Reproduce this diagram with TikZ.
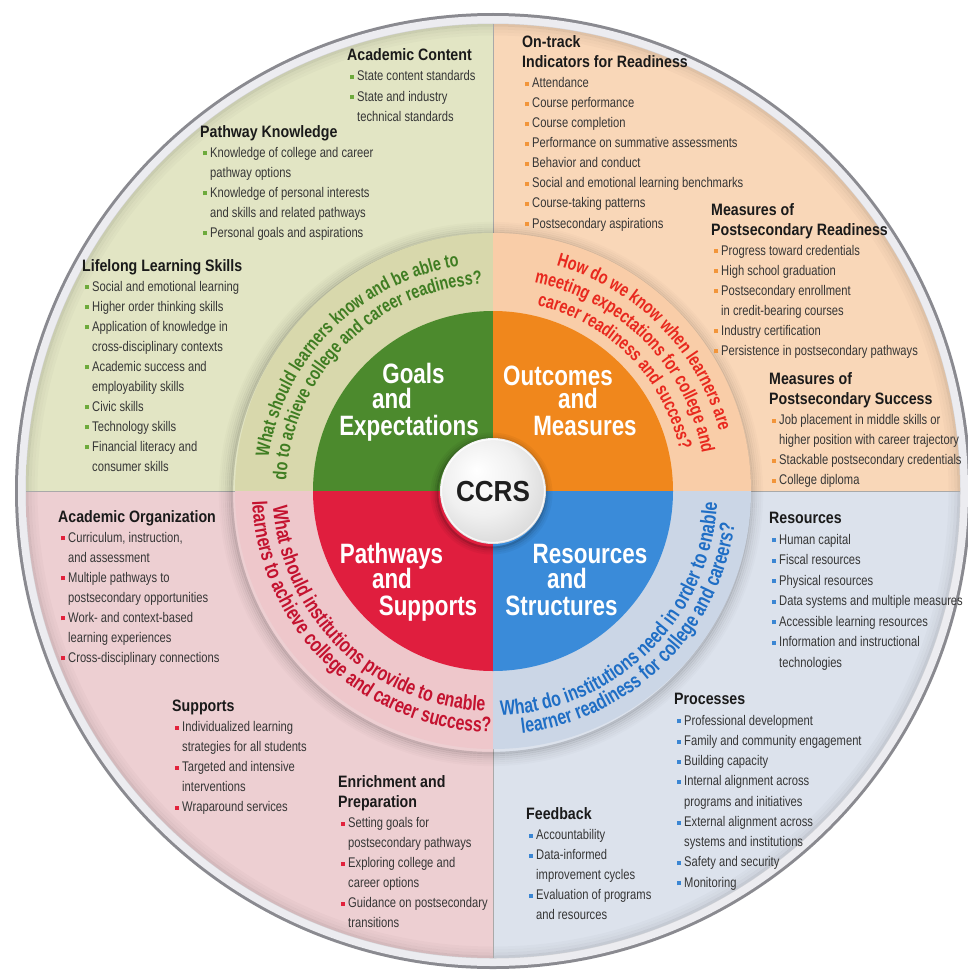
\documentclass[tikz,border=0pt]{standalone}
\usepackage{fontspec}
\setmainfont{Liberation Sans}[FakeStretch=0.8]
\newfontfamily\hfont{Liberation Sans}[FakeStretch=0.86]
\newfontfamily\qfont{Liberation Sans}[FakeStretch=0.76]
\newfontfamily\ccfont{Liberation Sans}[FakeStretch=0.9]
\usetikzlibrary{decorations.text}

\definecolor{rimdark}{HTML}{8A8A90}
\definecolor{rimlight}{HTML}{ECECF0}
\definecolor{tlA}{HTML}{E2E5C4}\definecolor{tlB}{HTML}{CBD89C}\definecolor{tlC}{HTML}{D5DDB4}
\definecolor{trA}{HTML}{F9D7B8}\definecolor{trB}{HTML}{F5B67C}\definecolor{trC}{HTML}{F3AE72}
\definecolor{blA}{HTML}{EDCFD2}\definecolor{blB}{HTML}{F29A96}\definecolor{blC}{HTML}{EE7370}
\definecolor{brA}{HTML}{DCE2EC}\definecolor{brB}{HTML}{B9CFEB}\definecolor{brC}{HTML}{A2C2E9}
\definecolor{rtl}{HTML}{D8D8AC}\definecolor{rtr}{HTML}{F9CDA8}
\definecolor{rbl}{HTML}{EEC7CB}\definecolor{rbr}{HTML}{CBD6E6}
\definecolor{ig}{HTML}{4C8A2D}\definecolor{io}{HTML}{F0871C}
\definecolor{ir}{HTML}{E01E3E}\definecolor{ib}{HTML}{3A8BD9}
\definecolor{qg}{HTML}{3F7D22}\definecolor{qo}{HTML}{E8281E}
\definecolor{qr}{HTML}{C4122F}\definecolor{qb}{HTML}{1F6EC5}
\definecolor{bg}{HTML}{6DAA3C}\definecolor{bo}{HTML}{F2953A}
\definecolor{br}{HTML}{E2223C}\definecolor{bb}{HTML}{3B86D3}
\definecolor{bodyc}{HTML}{363636}\definecolor{headc}{HTML}{1A1A1A}
\definecolor{ccc}{HTML}{1E1E1E}\definecolor{divc}{HTML}{A9A9A9}

\pgfdeclareradialshading{tlsh}{\pgfpoint{0bp}{0bp}}{color(0bp)=(tlA); color(28bp)=(tlA); color(40bp)=(tlB); color(50bp)=(tlC)}
\pgfdeclareradialshading{trsh}{\pgfpoint{0bp}{0bp}}{color(0bp)=(trA); color(28bp)=(trA); color(40bp)=(trB); color(50bp)=(trC)}
\pgfdeclareradialshading{blsh}{\pgfpoint{0bp}{0bp}}{color(0bp)=(blA); color(28bp)=(blA); color(40bp)=(blB); color(50bp)=(blC)}
\pgfdeclareradialshading{brsh}{\pgfpoint{0bp}{0bp}}{color(0bp)=(brA); color(28bp)=(brA); color(40bp)=(brB); color(50bp)=(brC)}
\pgfdeclareradialshading{ccsh}{\pgfpoint{-8bp}{10bp}}{color(0bp)=(white); color(18bp)=(gray!12); color(44bp)=(gray!48); color(50bp)=(gray!65)}

\newcommand\hd[1]{\hbox{\hfont\bfseries\fontsize{16.5}{20}\selectfont\color{headc}#1}}
\newcommand\bi[2]{\hbox{\hspace{3pt}\textcolor{#1}{\rule[1.6pt]{4pt}{4pt}}\hspace{3pt}#2}}
\newcommand\ci[1]{\hbox{\hspace{10pt}#1}}
\newcommand\blk[2][20pt]{\vtop{\baselineskip=#1\lineskiplimit=-40pt\lineskip=0pt #2}}
\newcommand\qtext[6]{\path[decorate, decoration={text along path, text align=center, text color=#1,
  text={|\qfont\bfseries\fontsize{#2}{#2}\selectfont|#6}}] ([shift={(#4:#3pt)}]C) arc[start angle=#4, end angle=#5, radius=#3pt];}

\begin{document}
\begin{tikzpicture}[x=1pt,y=1pt,
  blkn/.style={anchor=base west, inner sep=0pt, text=bodyc, font=\fontsize{14}{20}\selectfont},
  bign/.style={anchor=base, inner sep=0pt, text=white, font=\bfseries\fontsize{28}{28}\selectfont}]
\useasboundingbox (0,0) rectangle (968,-974);
\fill[white] (0,0) rectangle (968,-974);
\coordinate (C) at (493,-491);

% outer rim
\fill[rimdark] (C) circle[radius=478pt];
\fill[rimlight] (C) circle[radius=475pt];

% outer quadrants
\foreach \a/\sh in {90/tlsh, 0/trsh, 180/blsh, 270/brsh} {
  \begin{scope}
    \clip (C) -- ([shift={(\a:467pt)}]C) arc[start angle=\a, end angle=\a+90, radius=467pt] -- cycle;
    \shade[shading=\sh] (C) circle[radius=467pt];
  \end{scope}
}
\foreach \rr/\op in {466/0.10, 463/0.06, 460/0.035, 457/0.02}
  \draw[black, opacity=\op, line width=3pt] (C) circle[radius=\rr pt];

% dividers
\foreach \a in {0,90,180,270}
  \draw[divc, line width=0.8pt] ([shift={(\a:258pt)}]C) -- ([shift={(\a:467pt)}]C);

% halo shadow of the question ring
\foreach \rr/\op in {259/0.16, 261/0.12, 263/0.09, 265/0.065, 267/0.045, 269/0.03, 271/0.015}
  \draw[black, opacity=\op, line width=2.2pt] ([shift={(-2pt,-3pt)}]C) circle[radius=\rr pt];

% question ring
\foreach \a/\c in {90/rtl, 0/rtr, 180/rbl, 270/rbr}
  \fill[\c] (C) -- ([shift={(\a:258pt)}]C) arc[start angle=\a, end angle=\a+90, radius=258pt] -- cycle;

% inner disc
\foreach \a/\c in {90/ig, 0/io, 180/ir, 270/ib}
  \fill[\c] (C) -- ([shift={(\a:180pt)}]C) arc[start angle=\a, end angle=\a+90, radius=180pt] -- cycle;

% CCRS button
\foreach \rr/\op in {54/0.25, 56/0.15, 58/0.08, 60/0.04}
  \draw[black, opacity=\op, line width=2pt] ([shift={(-1.5pt,-2.5pt)}]C) circle[radius=\rr pt];
\shade[shading=ccsh] (C) circle[radius=53pt];
\draw[white, line width=1.2pt, opacity=0.8] (C) circle[radius=51.5pt];
\node[anchor=base, inner sep=0pt, text=ccc, font=\ccfont\bfseries\fontsize{29}{29}\selectfont] (ccrs) at (493,-501.5) {CCRS};

% inner labels
\node[bign] (g1) at (413.5,-383.3) {Goals};
\node[bign] (g2) at (392,-408.3) {and};
\node[bign] (g3) at (409,-435) {Expectations};
\node[bign] (o1) at (558,-385) {Outcomes};
\node[bign] (o2) at (578,-408.3) {and};
\node[bign] (o3) at (585,-435) {Measures};
\node[bign] (p1) at (391.5,-563.3) {Pathways};
\node[bign] (p2) at (392,-588.3) {and};
\node[bign] (p3) at (428,-615) {Supports};
\node[bign] (r1) at (590,-563.3) {Resources};
\node[bign] (r2) at (567,-588.3) {and};
\node[bign] (r3) at (561.5,-615) {Structures};

% questions
\qtext{qg}{19}{227}{195}{75}{What should learners know and be able to}
\qtext{qg}{19}{207}{195}{75}{do to achieve college and career readiness?}
\qtext{qo}{19}{234}{104.5}{-15.5}{How do we know when learners are}
\qtext{qo}{19}{212.5}{104.5}{-15.5}{meeting expectations for college and}
\qtext{qo}{19}{191}{104.5}{-15.5}{career readiness and success?}
\qtext{qr}{21}{220.5}{166}{286}{What should institutions provide to enable}
\qtext{qr}{21}{241}{166}{286}{learners to achieve college and career success?}
\qtext{qb}{21}{224.5}{254.5}{374.5}{What do institutions need in order to enable}
\qtext{qb}{21}{244}{254.5}{374.5}{learner readiness for college and careers?}

% top-left blocks
\node[blkn] (acad) at (347,-61) {\blk{\hd{Academic Content}
  \bi{bg}{State content standards}
  \bi{bg}{State and industry}
  \ci{technical standards}}};
\node[blkn] (path) at (200,-137) {\blk{\hd{Pathway Knowledge}
  \bi{bg}{Knowledge of college and career}
  \ci{pathway options}
  \bi{bg}{Knowledge of personal interests}
  \ci{and skills and related pathways}
  \bi{bg}{Personal goals and aspirations}}};
\node[blkn] (life) at (82,-271) {\blk{\hd{Lifelong Learning Skills}
  \bi{bg}{Social and emotional learning}
  \bi{bg}{Higher order thinking skills}
  \bi{bg}{Application of knowledge in}
  \ci{cross-disciplinary contexts}
  \bi{bg}{Academic success and}
  \ci{employability skills}
  \bi{bg}{Civic skills}
  \bi{bg}{Technology skills}
  \bi{bg}{Financial literacy and}
  \ci{consumer skills}}};

% top-right blocks
\node[blkn] (ontr) at (522,-48) {\blk{\hd{On-track}
  \hd{Indicators for Readiness}
  \bi{bo}{Attendance}
  \bi{bo}{Course performance}
  \bi{bo}{Course completion}
  \bi{bo}{Performance on summative assessments}
  \bi{bo}{Behavior and conduct}
  \bi{bo}{Social and emotional learning benchmarks}
  \bi{bo}{Course-taking patterns}
  \bi{bo}{Postsecondary aspirations}}};
\node[blkn] (mpr) at (711,-215) {\blk{\hd{Measures of}
  \hd{Postsecondary Readiness}
  \bi{bo}{Progress toward credentials}
  \bi{bo}{High school graduation}
  \bi{bo}{Postsecondary enrollment}
  \ci{in credit-bearing courses}
  \bi{bo}{Industry certification}
  \bi{bo}{Persistence in postsecondary pathways}}};
\node[blkn] (mps) at (769,-384.5) {\blk{\hd{Measures of}
  \hd{Postsecondary Success}
  \bi{bo}{Job placement in middle skills or}
  \ci{higher position with career trajectory}
  \bi{bo}{Stackable postsecondary credentials}
  \bi{bo}{College diploma}}};

% bottom-left blocks
\node[blkn] (aorg) at (58,-522) {\blk{\hd{Academic Organization}
  \bi{br}{Curriculum, instruction,}
  \ci{and assessment}
  \bi{br}{Multiple pathways to}
  \ci{postsecondary opportunities}
  \bi{br}{Work- and context-based}
  \ci{learning experiences}
  \bi{br}{Cross-disciplinary connections}}};
\node[blkn] (supp) at (172,-711.5) {\blk{\hd{Supports}
  \bi{br}{Individualized learning}
  \ci{strategies for all students}
  \bi{br}{Targeted and intensive}
  \ci{interventions}
  \bi{br}{Wraparound services}}};
\node[blkn] (enr) at (338,-787.5) {\blk{\hd{Enrichment and}
  \hd{Preparation}
  \bi{br}{Setting goals for}
  \ci{postsecondary pathways}
  \bi{br}{Exploring college and}
  \ci{career options}
  \bi{br}{Guidance on postsecondary}
  \ci{transitions}}};

% bottom-right blocks
\node[blkn] (res) at (769,-523.5) {\blk[20.5pt]{\hd{Resources}
  \bi{bb}{Human capital}
  \bi{bb}{Fiscal resources}
  \bi{bb}{Physical resources}
  \bi{bb}{Data systems and multiple measures}
  \bi{bb}{Accessible learning resources}
  \bi{bb}{Information and instructional}
  \ci{technologies}}};
\node[blkn] (proc) at (674,-704.75) {\blk[20.25pt]{\hd{Processes}
  \bi{bb}{Professional development}
  \bi{bb}{Family and community engagement}
  \bi{bb}{Building capacity}
  \bi{bb}{Internal alignment across}
  \ci{programs and initiatives}
  \bi{bb}{External alignment across}
  \ci{systems and institutions}
  \bi{bb}{Safety and security}
  \bi{bb}{Monitoring}}};
\node[blkn] (feed) at (526,-819.5) {\blk{\hd{Feedback}
  \bi{bb}{Accountability}
  \bi{bb}{Data-informed}
  \ci{improvement cycles}
  \bi{bb}{Evaluation of programs}
  \ci{and resources}}};
\end{tikzpicture}
\end{document}
